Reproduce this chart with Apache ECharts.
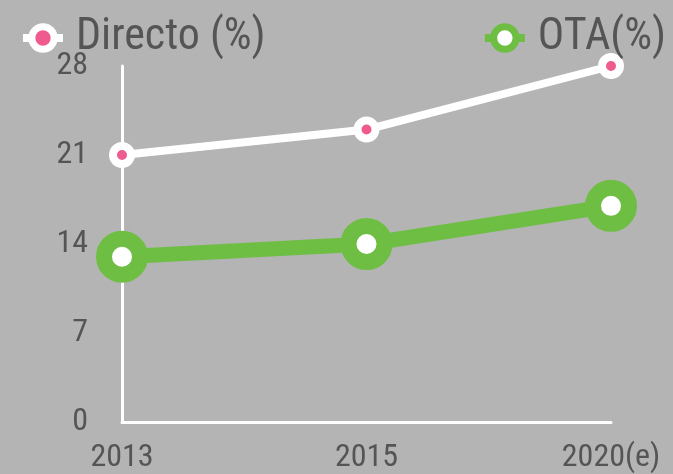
<!DOCTYPE html>
<html>
<head>
<meta charset="utf-8">
<script src="https://cdn.jsdelivr.net/npm/echarts@6/dist/echarts.min.js"></script>
<style>
  html, body { margin: 0; padding: 0; background: #b4b4b4; }
  #chart { width: 673px; height: 474px; }
</style>
</head>
<body>
<div id="chart"></div>
<script>
const FONT = "'Roboto Condensed', 'Liberation Sans Narrow', 'DejaVu Sans Condensed', sans-serif";
const COLORS = { bg: '#b4b4b4', text: '#555555', axis: '#ffffff', pink: '#ef5b8f', green: '#6fbe44' };

// datos
const years = ['2013', '2015', '2020(e)'];
const directo = [21, 23, 28];
const ota = [13, 14, 17];
const yTicks = { min: 0, max: 28, interval: 7 };

const chart = echarts.init(document.getElementById('chart'), null, { renderer: 'canvas' });

const legendText = { color: COLORS.text, fontSize: 44, fontFamily: FONT, padding: [0, 0, 0, 8] };

chart.setOption({
  backgroundColor: COLORS.bg,
  animation: false,
  grid: { left: 122, right: 62, top: 66, bottom: 51, containLabel: false },
  legend: [
    {
      data: ['Directo (%)'], left: 14, top: 11, itemWidth: 40, itemHeight: 28,
      lineStyle: { width: 8 }, itemStyle: { borderWidth: 7 },
      textStyle: legendText,
    },
    {
      data: ['OTA(%)'], right: 2, top: 11, itemWidth: 40, itemHeight: 28,
      lineStyle: { width: 8 }, itemStyle: { borderWidth: 7 },
      textStyle: legendText,
    },
  ],
  xAxis: {
    type: 'category',
    data: years,
    boundaryGap: false,
    axisLine: { lineStyle: { color: COLORS.axis, width: 3 } },
    axisTick: { show: false },
    axisLabel: { color: COLORS.text, fontSize: 32, fontFamily: FONT, margin: 20 },
    splitLine: { show: false },
  },
  yAxis: {
    type: 'value',
    min: yTicks.min, max: yTicks.max, interval: yTicks.interval,
    axisLine: { show: true, lineStyle: { color: COLORS.axis, width: 3 } },
    axisTick: { show: false },
    axisLabel: { color: COLORS.text, fontSize: 32, fontFamily: FONT, margin: 34 },
    splitLine: { show: false },
  },
  series: [
    {
      name: 'Directo (%)',
      type: 'line',
      data: directo,
      symbol: 'circle',
      symbolSize: 18,
      lineStyle: { color: '#ffffff', width: 8 },
      itemStyle: { color: COLORS.pink, borderColor: '#ffffff', borderWidth: 8 },
      z: 3,
    },
    {
      name: 'OTA(%)',
      type: 'line',
      data: ota,
      symbol: 'circle',
      symbolSize: 36,
      lineStyle: { color: COLORS.green, width: 15 },
      itemStyle: { color: '#ffffff', borderColor: COLORS.green, borderWidth: 16 },
      z: 2,
    },
  ],
});
</script>
</body>
</html>
